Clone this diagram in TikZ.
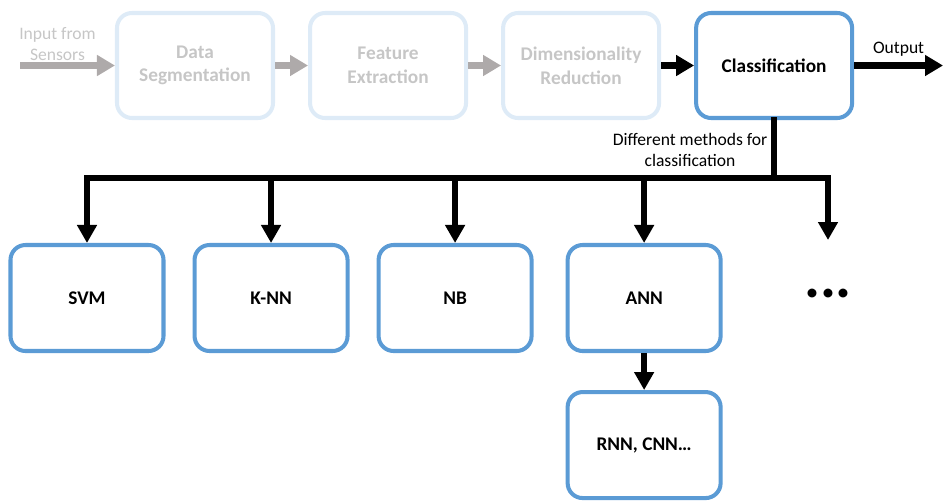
\documentclass[tikz,border=0pt]{standalone}
\usepackage{fontspec}
\setmainfont{Carlito}
\usetikzlibrary{positioning,arrows.meta}
\definecolor{boxblue}{HTML}{5B9BD5}
\definecolor{paleblue}{HTML}{DEEBF7}
\definecolor{paletext}{HTML}{C6C6C6}
\definecolor{arrowgray}{HTML}{AEAAAA}
\tikzset{
    stage/.style = {
        draw = boxblue,
        line width = 2.3pt,
        rounded corners = 0.3cm,
        minimum width = 3.12cm,
        minimum height = 2.1cm,
        align = center,
        font = \fontsize{11}{13.5}\selectfont\bfseries,
        },
    faded/.style = {
        draw = paleblue,
        text = paletext,
        },
    method/.style = {
        stage,
        minimum width = 3.06cm,
        minimum height = 2.12cm,
        },
    flow/.style = {
        -{Triangle[length=0.36cm, width=0.4cm]},
        line width = 4pt,
        },
    branch/.style = {
        -{Triangle[length=0.36cm, width=0.38cm]},
        line width = 3.4pt,
        },
    bar/.style = {
        line width = 3.4pt,
        line cap = rect,
        },
    small label/.style = {
        font = \fontsize{10}{11.5}\selectfont,
        align = center,
        },
}

\begin{document}
\begin{tikzpicture}
    \useasboundingbox (0,0) rectangle (18.86,-10.04);

    % pipeline
    \node[stage, faded] (seg) at (3.9,-1.31) {Data\\Segmentation};
    \node[stage, faded, right=0.66cm of seg] (feat) {Feature\\Extraction};
    \node[stage, faded, right=0.66cm of feat] (dim) {Dimensionality\\Reduction};
    \node[stage, right=0.66cm of dim] (cls) {Classification};

    \coordinate (in) at (0.4,-1.31);
    \coordinate (out) at (18.86,-1.31);
    \node[small label, text=paletext] (inlabel) at (1.15,-0.88) {Input from\\Sensors};

    \path (in) edge[flow, arrowgray] (seg);
    \path (seg) edge[flow, arrowgray] (feat);
    \path (feat) edge[flow, arrowgray] (dim);
    \path (dim) edge[flow] (cls);
    \path (cls) edge[flow] node[small label, above] (outlabel) {Output} (out);

    % methods
    \node[method] (svm) at (1.74,-5.96) {SVM};
    \node[method, right=0.54cm of svm] (knn) {K-NN};
    \node[method, right=0.54cm of knn] (nb) {NB};
    \node[method, right=0.64cm of nb] (ann) {ANN};
    \node[method, below=0.74cm of ann] (rnn) {RNN, CNN…};

    \coordinate[below=1.16cm of cls] (split);
    \coordinate (more) at (16.56,-4.8);
    \node[font=\fontsize{34}{34}\selectfont\bfseries] (dots) at (16.56,-5.87) {...};
    \node[small label] (methodlabel) at (13.8,-3.0) {Different methods for\\classification};

    \draw[bar] (cls.south) -- (split);
    \draw[bar] (split -| svm.north) -- (split -| more);
    \foreach \m in {svm, knn, nb, ann}
        \draw[branch] (split -| \m.north) -- (\m.north);
    \draw[branch] (split -| more) -- (more);
    \path (ann) edge[branch] (rnn);
\end{tikzpicture}
\end{document}
